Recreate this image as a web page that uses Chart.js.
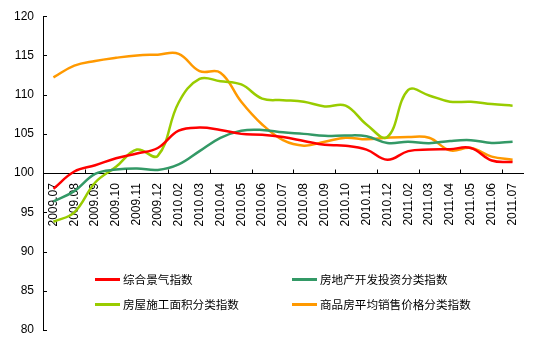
<!DOCTYPE html>
<html>
<head>
<meta charset="utf-8">
<script src="https://cdn.jsdelivr.net/npm/chart.js@4/dist/chart.umd.min.js"></script>
<style>
  html, body { margin: 0; padding: 0; background: #fff; }
  #wrap { position: relative; width: 537px; height: 354px; }
  #legend { position: absolute; left: 0; top: 0; width: 537px; height: 354px; pointer-events: none; }
  .item { position: absolute; height: 16px; line-height: 16px; font-family: "Noto Sans CJK SC", sans-serif; font-size: 11.6px; color: #000; white-space: nowrap; }
  .swatch { position: absolute; top: 7px; left: 0; width: 25px; height: 3px; }
  .label { position: absolute; left: 28px; top: 0; }
</style>
</head>
<body>
<div id="wrap">
  <canvas id="c" width="537" height="354"></canvas>
  <div id="legend"></div>
</div>
<script>
const categories = ['2009.07','2009.08','2009.09','2009.10','2009.11','2009.12','2010.02','2010.03','2010.04','2010.05','2010.06','2010.07','2010.08','2010.09','2010.10','2010.11','2010.12','2011.02','2011.03','2011.04','2011.05','2011.06','2011.07'];
const seriesNames = ['综合景气指数','房地产开发投资分类指数','房屋施工面积分类指数','商品房平均销售价格分类指数'];
const composite  = [98.0,100.2,101.0,101.9,102.5,103.2,105.4,105.8,105.5,105.0,104.9,104.6,104.1,103.6,103.5,103.0,101.7,102.8,103.0,103.05,103.2,101.6,101.4];
const investment = [96.4,97.7,99.9,100.45,100.6,100.4,101.1,102.8,104.5,105.4,105.5,105.2,105.0,104.75,104.8,104.7,103.85,104.0,103.8,104.1,104.2,103.85,104.0];
const floorArea  = [93.8,95.0,98.8,100.8,103.0,102.2,109.0,112.0,111.7,111.3,109.5,109.3,109.1,108.5,108.6,106.2,104.6,110.6,109.9,109.1,109.1,108.8,108.6];
const price      = [112.2,113.7,114.3,114.7,115.0,115.1,115.2,113.0,112.8,109.1,106.2,104.2,103.5,104.0,104.5,104.3,104.5,104.6,104.5,102.9,103.2,102.1,101.7];
const yTicks = [80,85,90,95,100,105,110,115,120];
const colors = ['#FF0000','#339966','#99CC00','#FF9900'];
const seriesData = [composite, investment, floorArea, price];

const tickPlugin = {
  id: 'innerTicks',
  afterDraw(chart) {
    const ctx = chart.ctx, xs = chart.scales.x, ys = chart.scales.y;
    const left = chart.chartArea.left;
    ctx.save();
    ctx.strokeStyle = '#000';
    ctx.lineWidth = 1;
    const y0 = Math.round(ys.getPixelForValue(100)) + 0.5;
    ctx.beginPath();
    for (let k = 2; k < categories.length; k += 2) {
      const px = Math.round((xs.getPixelForValue(k - 1) + xs.getPixelForValue(k)) / 2) + 0.5;
      ctx.moveTo(px, y0);
      ctx.lineTo(px, y0 - 4);
    }
    yTicks.forEach(v => {
      const py = Math.round(ys.getPixelForValue(v)) + 0.5;
      ctx.moveTo(left, py);
      ctx.lineTo(left + 4, py);
    });
    ctx.stroke();
    ctx.restore();
  }
};

new Chart(document.getElementById('c'), {
  type: 'line',
  data: {
    labels: categories,
    datasets: seriesNames.map((n, i) => ({
      label: n,
      data: seriesData[i],
      borderColor: colors[i],
      backgroundColor: colors[i],
      borderWidth: 2.5,
      pointRadius: 0,
      tension: 0.4,
      fill: false
    }))
  },
  options: {
    responsive: false,
    animation: false,
    layout: { padding: { top: 15, bottom: 24, right: 1, left: 0 } },
    plugins: { legend: { display: false }, tooltip: { enabled: false } },
    scales: {
      x: {
        type: 'category',
        position: { y: 100 },
        offset: true,
        grid: { display: false, drawTicks: false },
        border: { display: true, color: '#000', width: 1 },
        ticks: {
          autoSkip: false, minRotation: 90, maxRotation: 90, padding: 10,
          color: '#000', font: { family: 'Liberation Sans, Arial, sans-serif', size: 12 }
        }
      },
      y: {
        min: 80, max: 120,
        afterFit(s) { s.width = 43; },
        afterBuildTicks(s) { s.ticks = yTicks.map(v => ({ value: v })); },
        grid: { display: false, drawTicks: false },
        border: { display: true, color: '#000', width: 1 },
        ticks: {
          padding: 9, color: '#000',
          font: { family: 'Liberation Sans, Arial, sans-serif', size: 12 }
        }
      }
    }
  },
  plugins: [tickPlugin]
});

const legendPos = [[95, 271], [292, 271], [95, 296], [292, 296]];
const lg = document.getElementById('legend');
seriesNames.forEach((n, i) => {
  const d = document.createElement('div');
  d.className = 'item';
  d.style.left = legendPos[i][0] + 'px';
  d.style.top = legendPos[i][1] + 'px';
  const sw = document.createElement('div');
  sw.className = 'swatch';
  sw.style.background = colors[i];
  const t = document.createElement('span');
  t.className = 'label';
  t.textContent = n;
  d.appendChild(sw); d.appendChild(t);
  lg.appendChild(d);
});
</script>
</body>
</html>
